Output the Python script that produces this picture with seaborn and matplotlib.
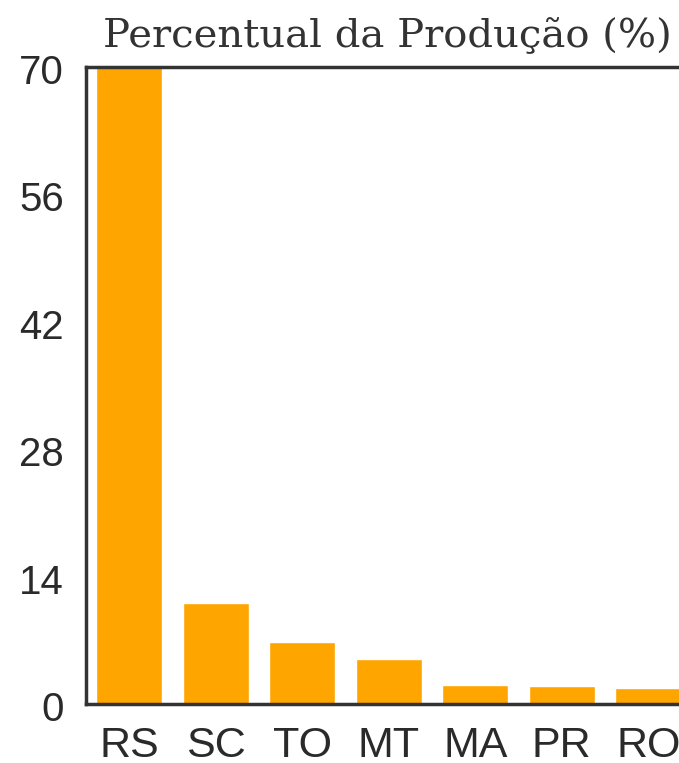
import pandas as pd
import matplotlib.pyplot as plt
import matplotlib.transforms as mtransforms
import seaborn as sns

# states and share of production (%)
estados = ['RS', 'SC', 'TO', 'MT', 'MA', 'PR', 'RO', 'GO']
percentual = [70.0, 11.1, 6.8, 4.9, 2.1, 2.0, 1.8, 1.2]
yticks = [0, 14, 28, 42, 56, 70]
titulo = 'Percentual da Produção (%)'

def plot_chart(df):
    sns.set_style('white')
    plt.rcParams['font.family'] = ['Liberation Sans', 'DejaVu Sans']
    fig = plt.figure(figsize=(6.79, 7.63), dpi=100)
    # the axes run off the right edge, like the cropped original
    ax = fig.add_axes([86 / 679, 59 / 763, 8 * 86.5 / 679, 637 / 763])
    sns.barplot(data=df, x='estado', y='pct', color='#FFA500', saturation=1,
                width=0.76, ax=ax)
    ax.set_xlim(-0.5, 7.5)
    ax.set_ylim(0, 70)
    ax.set_yticks(yticks)
    ax.set_yticklabels([str(t) for t in yticks])
    ax.set_xlabel('')
    ax.set_ylabel('')
    ax.tick_params(axis='x', labelsize=31, length=0, pad=16, colors='#2a2a2a')
    ax.tick_params(axis='y', labelsize=29, length=0, pad=16, colors='#2a2a2a')
    # y labels sit a little below their value in the original
    shift = mtransforms.ScaledTranslation(0, -2 / 100, fig.dpi_scale_trans)
    for lab in ax.get_yticklabels():
        lab.set_transform(lab.get_transform() + shift)
    for s in ['left', 'top', 'bottom']:
        ax.spines[s].set_color('#333333')
        ax.spines[s].set_linewidth(2.5)
    ax.spines['right'].set_visible(False)

    t = fig.text(103 / 679, 1 - 47 / 763, titulo, family='DejaVu Serif',
                 fontsize=24, color='#333333', ha='left', va='baseline')
    # stretch the title to the width it has in the original
    r = fig.canvas.get_renderer()
    w = t.get_window_extent(r).width
    t.set_fontsize(24 * 569 / w)
    fig.savefig('out.png', dpi=100)

def main():
    df = pd.DataFrame({'estado': estados, 'pct': percentual})
    plot_chart(df)

if __name__ == '__main__':
    main()
